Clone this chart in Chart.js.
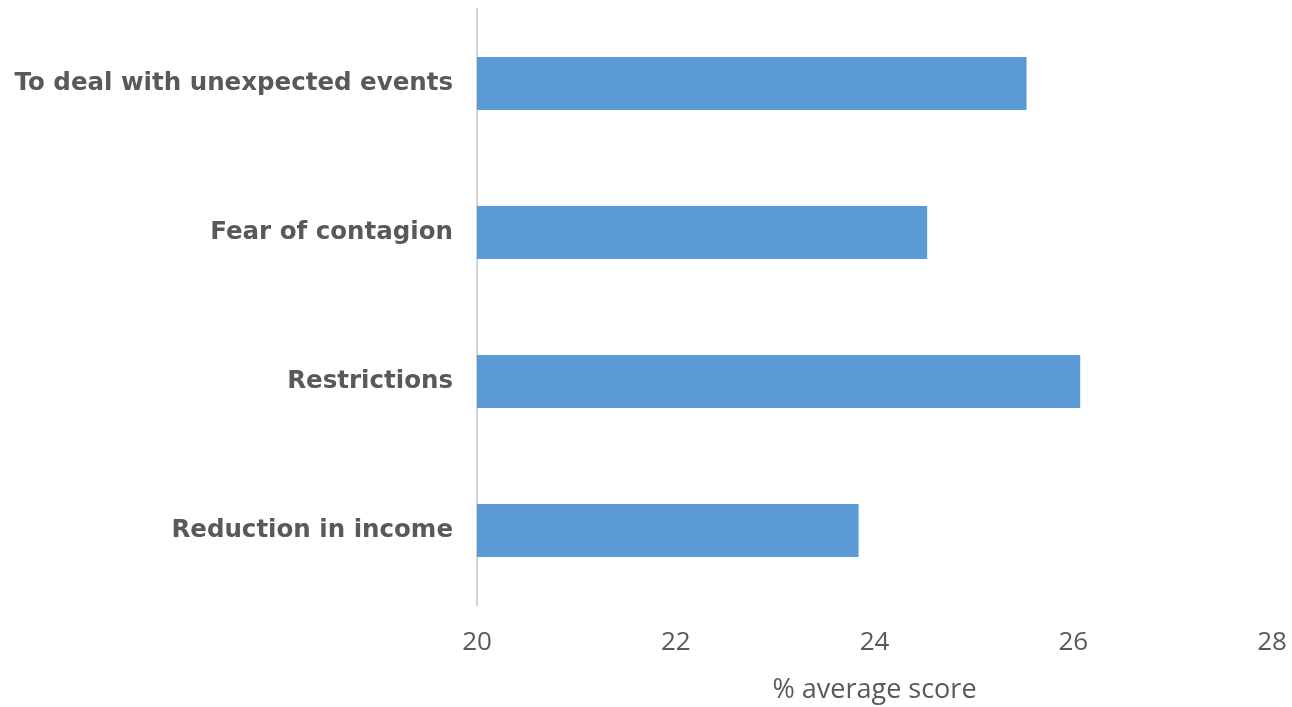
<!DOCTYPE html>
<html>
<head>
<meta charset="utf-8">
<script src="https://cdn.jsdelivr.net/npm/chart.js@4/dist/chart.umd.min.js"></script>
<style>
  html, body { margin: 0; padding: 0; background: #ffffff; }
  #wrap { width: 1292px; height: 707px; position: relative; }
</style>
</head>
<body>
<div id="wrap"><canvas id="c"></canvas></div>
<script>
const categories = ["To deal with unexpected events", "Fear of contagion", "Restrictions", "Reduction in income"];
const scores = [25.53, 24.53, 26.07, 23.84];
const xTicks = [20, 22, 24, 26, 28];
const xTitle = "% average score";

new Chart(document.getElementById('c'), {
  type: 'bar',
  data: {
    labels: categories,
    datasets: [{
      data: scores,
      backgroundColor: '#5B9BD5',
      borderWidth: 0,
      barPercentage: 0.356,
      categoryPercentage: 1.0,
      base: 20
    }]
  },
  options: {
    indexAxis: 'y',
    responsive: true,
    maintainAspectRatio: false,
    animation: false,
    layout: { padding: { top: 9, right: 20, bottom: 0, left: 0 } },
    plugins: { legend: { display: false }, tooltip: { enabled: false } },
    scales: {
      x: {
        min: 20, max: 28,
        afterBuildTicks: (s) => { s.ticks = xTicks.map(v => ({ value: v })); },
        afterFit: (s) => { s.height = 102; s.paddingLeft = 0; s.paddingRight = 0; },
        grid: { display: false, drawTicks: false },
        border: { display: false },
        ticks: { padding: 22, color: '#595959', font: { family: 'Open Sans', size: 26 } },
        title: { display: true, text: xTitle, color: '#595959', font: { family: 'Open Sans', size: 27 }, padding: { top: 2, bottom: 0 } }
      },
      y: {
        afterFit: (s) => { s.width = 477; s.paddingTop = 0; s.paddingBottom = 0; },
        grid: { display: false, drawTicks: false },
        border: { display: true, color: '#d4d4d4', width: 2 },
        ticks: { padding: 24, color: '#595959', font: { family: 'DejaVu Sans', size: 24.5, weight: 'bold' } }
      }
    }
  }
});
</script>
</body>
</html>
